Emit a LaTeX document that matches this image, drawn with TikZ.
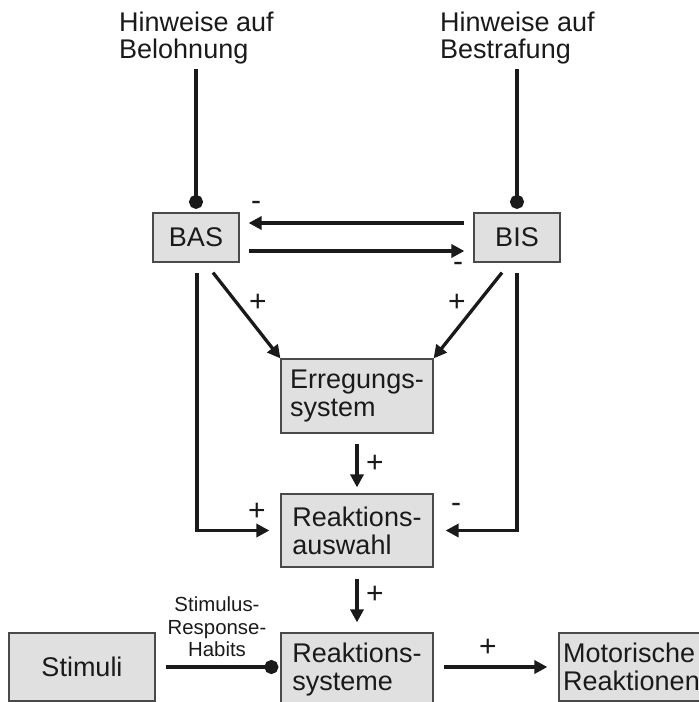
\documentclass[tikz,border=0pt]{standalone}
\usepackage{fontspec}
\setmainfont{Liberation Sans}
\usetikzlibrary{arrows.meta,calc}

\definecolor{ink}{HTML}{1A1A1A}
\definecolor{boxfill}{HTML}{E0E0E0}
\definecolor{boxline}{HTML}{4A4A4A}

\begin{document}
\begin{tikzpicture}[x=1pt,y=-1pt,
  every node/.style={text=ink},
  box/.style={draw=boxline, fill=boxfill, line width=1.2pt, inner sep=0pt, align=left,
    font=\fontsize{27}{28}\selectfont},
  cue/.style={inner sep=0pt, align=left, font=\fontsize{27}{26.5}\selectfont},
  habit/.style={inner sep=0pt, align=center, font=\fontsize{20.4}{22.5}\selectfont},
  sign/.style={inner sep=0pt, font=\fontsize{30}{30}\selectfont},
  conn/.style={line width=3.3pt, draw=ink},
  arr/.style={conn, -{Triangle[length=13pt,width=13pt]}},
  dotend/.style={conn, -{Circle[length=14pt]}},
]
\useasboundingbox (0,0) rectangle (699,702);
\clip (0,0) rectangle (699,702);

% cues
\node[cue, anchor=north west] (hb) at (119,12) {Hinweise auf\\Belohnung};
\node[cue, anchor=north west] (hs) at (440,12) {Hinweise auf\\Bestrafung};

% systems
\node[box, minimum width=86, minimum height=49, align=center] (bas) at (196,237.5) {BAS};
\node[box, minimum width=86, minimum height=49, align=center] (bis) at (517,237.5) {BIS};
\node[box, minimum width=152, minimum height=74] (erreg) at (357,396) {Erregungs-\\system};
\node[box, minimum width=152, minimum height=73] (auswahl) at (357,530.5) {Reaktions-\\auswahl};
\node[box, minimum width=152, minimum height=74] (systeme) at (357,670) {Reaktions-\\systeme};
\node[box, minimum width=146, minimum height=68, align=center] (stimuli) at (82,667) {Stimuli};
\node[box, minimum width=145, minimum height=68] (motor) at (631.5,667) {Motorische\\Reaktionen};

% cue inputs
\draw[dotend, shorten <=5pt, shorten >=3.5pt] (hb.south -| bas.north) -- (bas.north);
\draw[dotend, shorten <=5pt, shorten >=3.5pt] (hs.south -| bis.north) -- (bis.north);

% mutual inhibition
\draw[arr, shorten <=9pt, shorten >=9pt] ($(bis.west)+(0,-14.5)$) -- ($(bas.east)+(0,-14.5)$);
\draw[arr, shorten <=9pt, shorten >=9pt] ($(bas.east)+(0,13.5)$) -- ($(bis.west)+(0,13.5)$);

% arousal
\draw[arr] ($(bas.south)+(17,10)$) -- (erreg.north west);
\draw[arr] ($(bis.south)+(-15,10)$) -- (erreg.north east);

% main chain
\draw[arr, shorten <=10pt, shorten >=6pt] (erreg.south) -- (auswahl.north);
\draw[arr, shorten <=11pt, shorten >=10pt] (auswahl.south) -- (systeme.north);

% direct paths to response selection
\draw[arr, shorten >=11pt] ($(bas.south)+(1,10)$) |- (auswahl.west);
\draw[arr, shorten >=12pt] ($(bis.south)+(0,10)$) |- (auswahl.east);

% stimuli and output
\draw[dotend, shorten <=10pt, shorten >=2pt] (stimuli.east) -- (stimuli.east -| systeme.west);
\draw[arr, shorten <=10pt, shorten >=11pt] (motor.west -| systeme.east) -- (motor.west);
\node[habit] (habits) at (217,627) {Stimulus-\\Response-\\Habits};

% signs
\node[sign] (m1) at (256,206) {-};
\node[sign] (m2) at (458,267) {-};
\node[sign] (m3) at (456,508) {-};
\node[sign] (p1) at (258,303) {+};
\node[sign] (p2) at (457,303) {+};
\node[sign] (p3) at (375,464) {+};
\node[sign] (p4) at (375,595) {+};
\node[sign] (p5) at (257,512) {+};
\node[sign] (p6) at (488,648) {+};
\end{tikzpicture}
\end{document}
